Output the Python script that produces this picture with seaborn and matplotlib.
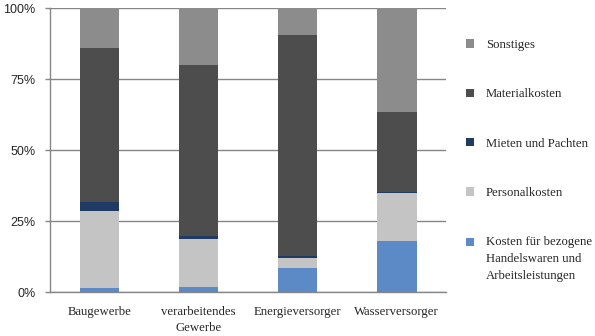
import numpy as np
import pandas as pd
import seaborn as sns
import matplotlib.pyplot as plt
from matplotlib.patches import Patch, Rectangle
from matplotlib.legend_handler import HandlerPatch

# Daten (Anteile in %)
branchen = ['Baugewerbe', 'verarbeitendes\nGewerbe', 'Energieversorger', 'Wasserversorger']
kosten_handel = [1.4, 1.9, 8.7, 18.2]
personalkosten = [27.3, 16.8, 3.3, 16.7]
mieten_pachten = [3.1, 1.2, 0.9, 0.3]
materialkosten = [54.1, 60.1, 77.8, 28.4]
sonstiges = [14.1, 20.0, 9.3, 36.4]

kategorien = ['Kosten für bezogene\nHandelswaren und\nArbeitsleistungen',
              'Personalkosten', 'Mieten und Pachten', 'Materialkosten', 'Sonstiges']
farben = ['#5b8ac6', '#c4c4c4', '#1f3b63', '#4d4d4d', '#8c8c8c']
y_ticks = [0, 25, 50, 75, 100]
y_labels = ['0%', '25%', '50%', '75%', '100%']

serif = 'Liberation Serif'
sans = 'Liberation Sans'
fs = 9.2

sns.set_style('white')
plt.rcParams['font.family'] = [serif]

# kumulierte Werte für gestapelte Balken
werte = np.array([kosten_handel, personalkosten, mieten_pachten, materialkosten, sonstiges])
kumuliert = werte.cumsum(axis=0)
df = pd.DataFrame({
    'Branche': np.tile(branchen, len(kategorien)),
    'Kategorie': np.repeat(kategorien, len(branchen)),
    'kum': kumuliert.ravel(),
})

fig = plt.figure(figsize=(5.95, 3.36), dpi=100)
ax = fig.add_axes([0.084, 0.130, 0.666, 0.845])

# von oben nach unten zeichnen, damit die kürzeren Balken darüber liegen
for kat, farbe in reversed(list(zip(kategorien, farben))):
    sub = df[df['Kategorie'] == kat]
    sns.barplot(data=sub, x='Branche', y='kum', order=branchen, color=farbe,
                width=0.4, linewidth=0, saturation=1, ax=ax)

ax.set_xlim(-0.5, 3.5)
ax.set_ylim(0, 100)
ax.set_xlabel('')
ax.set_ylabel('')

ax.set_yticks(y_ticks, y_labels, fontfamily=sans, fontsize=9)
ax.set_xticks(range(len(branchen)), branchen, fontfamily=serif, fontsize=fs)
for lab in ax.get_xticklabels():
    lab.set_linespacing(1.45)
ax.set_xticks(np.arange(-0.5, 4, 1), minor=True)
ax.tick_params(axis='x', which='major', length=0, pad=10)
ax.tick_params(axis='x', which='minor', length=3.5, width=1, color='#868686', direction='out')
ax.tick_params(axis='y', length=3.5, width=1, color='#868686', direction='out', pad=7, left=True)

ax.yaxis.grid(True, color='#868686', linewidth=1)
ax.set_axisbelow(True)
for s in ['top', 'right']:
    ax.spines[s].set_visible(False)
for s in ['left', 'bottom']:
    ax.spines[s].set_color('#868686')
    ax.spines[s].set_linewidth(1)


# Legendensymbol bei mehrzeiliger Beschriftung an die erste Zeile setzen
class HandlerErsteZeile(HandlerPatch):
    def __init__(self, shift, **kw):
        super().__init__(**kw)
        self.shift = shift

    def create_artists(self, legend, orig_handle, xdescent, ydescent,
                       width, height, fontsize, trans):
        p = Rectangle((-xdescent, -ydescent + self.shift), width, height,
                      facecolor=orig_handle.get_facecolor(), edgecolor='none',
                      transform=trans)
        return [p]


handles = [Patch(facecolor=f, edgecolor='none') for f in reversed(farben)]
leg = fig.legend(handles, list(reversed(kategorien)), loc='upper left',
                 bbox_to_anchor=(0.783, 0.884), frameon=False,
                 prop={'family': serif, 'size': fs},
                 handlelength=0.65, handleheight=0.65, handletextpad=0.9,
                 labelspacing=2.92, borderpad=0, borderaxespad=0,
                 handler_map={handles[-1]: HandlerErsteZeile(12.2)})
leg.get_texts()[-1].set_linespacing(1.53)

plt.savefig('out.png', dpi=100)
